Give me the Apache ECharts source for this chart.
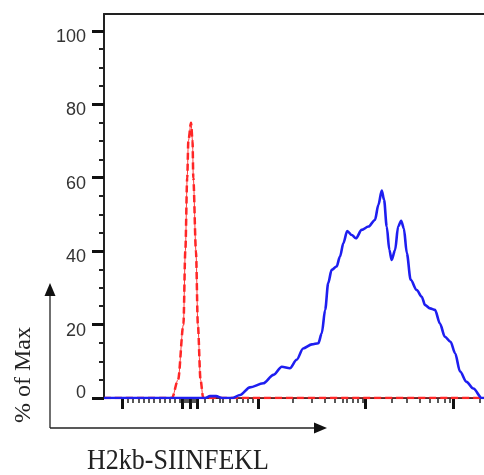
<!DOCTYPE html>
<html>
<head>
<meta charset="utf-8">
<script src="https://cdn.jsdelivr.net/npm/echarts@6/dist/echarts.min.js"></script>
<style>
  html, body { margin: 0; padding: 0; background: #fff; }
  #hist { width: 484px; height: 475px; }
</style>
</head>
<body>
<div id="hist"></div>
<script>
// x in display channels (0-1000 across the plot), y in % of Max
var redX  = [0, 179, 195, 209, 214, 219, 222, 229, 233, 235, 242, 247, 254, 261, 1000];
var redY  = [0, 0,   5,   20,  40,  60,  70,  75,  70,  60,  40,  20,  5,   0,   0];

var blueX = [0, 266, 279, 295, 311, 337, 358, 384, 419, 446, 468, 489, 507, 524, 547, 564,
             573, 582, 590, 599, 612, 621, 630, 640, 652, 663, 678, 696, 713, 722, 731, 737,
             744, 751, 757, 766, 774, 782, 789, 797, 807, 823, 836, 845, 858, 871, 884, 897,
             912, 924, 937, 954, 972, 994, 1000];
var blueY = [0, 0, 0.5, 0.5, 0, 0, 0.8, 2.9, 4.0, 6.3, 8.5, 8.1, 10.4, 13.5, 14.6, 14.9,
             17.6, 24, 31.3, 34.9, 35.8, 38.5, 42.2, 45.5, 44.4, 43.5, 45.8, 46.7, 48.5, 52.6, 56.5, 54,
             46.7, 40.3, 37.6, 40.3, 46.7, 48.3, 46.2, 39.4, 32.2, 29.4, 27.6, 25.3, 24.4, 24, 20.3, 16.7,
             15.3, 12.2, 7.2, 4.4, 2.6, 0, 0];

var xMajorTicks = [47, 205, 226, 245, 405, 687, 918];
var xMinorTicks = [63, 76, 92, 105, 118, 132, 147, 161, 174, 187, 200, 211, 216, 221, 232, 237, 242,
                   266, 287, 305, 313, 332, 350, 366, 379, 392, 497, 547, 582, 608, 629, 639, 655,
                   668, 682, 758, 797, 832, 858, 879, 897, 911, 989];
var yTicks = [0, 20, 40, 60, 80, 100];
var yMinorTicks = [5, 10, 15, 25, 30, 35, 45, 50, 55, 65, 70, 75, 85, 90, 95];

function pairs(xs, ys) {
  return xs.map(function (x, i) { return [x, ys[i]]; });
}

var chart = echarts.init(document.getElementById('hist'));

var axisColor = '#222';

var option = {
  animation: false,
  backgroundColor: '#fff',
  grid: { left: 104, right: 0, top: 14, bottom: 77 },
  xAxis: [
    {
      type: 'value', position: 'bottom', min: 0, max: 1000,
      axisLine: { lineStyle: { color: axisColor, width: 2 } },
      axisTick: { customValues: xMajorTicks, length: 11, lineStyle: { color: '#111', width: 3 } },
      axisLabel: { show: false },
      splitLine: { show: false }
    },
    {
      type: 'value', position: 'bottom', min: 0, max: 1000,
      axisLine: { show: false },
      axisTick: { customValues: xMinorTicks, length: 5, lineStyle: { color: '#222', width: 1.5 } },
      axisLabel: { show: false },
      splitLine: { show: false }
    },
    {
      type: 'value', position: 'top', min: 0, max: 1000,
      axisLine: { show: true, lineStyle: { color: axisColor, width: 2 } },
      axisTick: { show: false },
      axisLabel: { show: false },
      splitLine: { show: false }
    }
  ],
  yAxis: [
    {
      type: 'value', position: 'left', min: 0, max: 104.6,
      axisLine: { show: true, lineStyle: { color: axisColor, width: 2 } },
      axisTick: { customValues: yTicks, length: 12, lineStyle: { color: '#111', width: 3 } },
      axisLabel: {
        customValues: yTicks, margin: 18,
        fontFamily: 'Liberation Sans', fontSize: 18, color: '#333',
        formatter: function (v) { return v === 0 ? '{z|0}' : '{n|' + v + '}'; },
        rich: {
          n: { fontFamily: 'Liberation Sans', fontSize: 18, color: '#333', padding: [12, 0, 0, 0] },
          z: { fontFamily: 'Liberation Sans', fontSize: 18, color: '#333', padding: [0, 0, 10, 0] }
        }
      },
      splitLine: { show: false }
    },
    {
      type: 'value', position: 'left', min: 0, max: 104.6,
      axisLine: { show: false },
      axisTick: { customValues: yMinorTicks, length: 5, lineStyle: { color: '#222', width: 2 } },
      axisLabel: { show: false },
      splitLine: { show: false }
    }
  ],
  series: [
    {
      type: 'line', data: pairs(redX, redY), showSymbol: false,
      smooth: 0.3, smoothMonotone: 'x',
      lineStyle: { color: '#ff3b3b', width: 1 }
    },
    {
      type: 'line', data: pairs(redX, redY), showSymbol: false,
      smooth: 0.3, smoothMonotone: 'x',
      lineStyle: { color: '#ff2626', width: 2.5, type: [7, 4] }
    },
    {
      type: 'line', data: pairs(blueX, blueY), showSymbol: false,
      smooth: 0.3, smoothMonotone: 'x',
      lineStyle: { color: '#1e1ef0', width: 2.6 }
    }
  ],
  graphic: [
    { type: 'line', shape: { x1: 50, y1: 428, x2: 50, y2: 292 }, style: { stroke: '#222', lineWidth: 1.3 } },
    { type: 'polygon', shape: { points: [[50, 283], [44.5, 296], [55.5, 296]] }, style: { fill: '#111' } },
    { type: 'line', shape: { x1: 50, y1: 428, x2: 316, y2: 428 }, style: { stroke: '#222', lineWidth: 1.3 } },
    { type: 'polygon', shape: { points: [[327, 428], [314, 422.5], [314, 433.5]] }, style: { fill: '#111' } },
    {
      type: 'text', x: 24, y: 375, rotation: Math.PI / 2,
      style: { text: '% of Max', x: 0, y: 0, align: 'center', verticalAlign: 'middle',
               font: '24px "Liberation Serif", serif', fill: '#222' }
    },
    {
      type: 'text', x: 87, y: 461, scaleY: 1.1,
      style: { text: 'H2kb-SIINFEKL', x: 0, y: 0, align: 'left', verticalAlign: 'middle',
               font: '26px "Liberation Serif", serif', fill: '#222' }
    }
  ]
};

chart.setOption(option);
</script>
</body>
</html>
